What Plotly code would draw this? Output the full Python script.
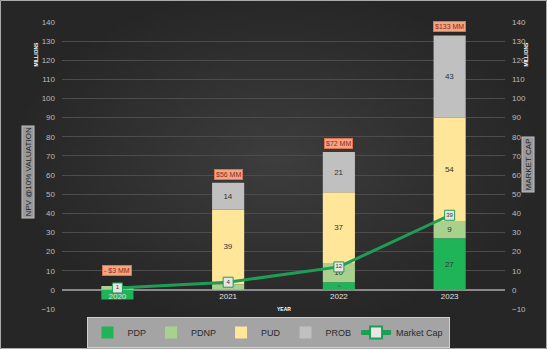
import base64, struct, zlib
import plotly.graph_objects as go

years = ["2020", "2021", "2022", "2023"]
pdp = [-5, 0, 4, 27]
pdnp = [2, 3, 10, 9]
pud = [0, 39, 37, 54]
prob = [0, 14, 21, 43]
market_cap = [1, 4, 12, 39]
total_labels = ["- $3 MM", "$56 MM", "$72 MM", "$133 MM"]

L, R, T, B = 62, 42, 22, 40
W, H = 547, 349
pw, ph = W - L - R, H - T - B

def px(x):
    return (x - L) / pw

def py(y):
    return (H - B - y) / ph

# radial background gradient as an in-memory PNG
def gradient_png(w=110, h=70):
    rows = b""
    for j in range(h):
        rows += b"\x00"
        for i in range(w):
            dx = (i - w * 0.5) / (w * 0.5)
            dy = (j - h * 0.45) / (h * 0.5)
            d = min(1.0, (dx * dx + dy * dy) ** 0.5)
            c = int(62 - 24 * d)
            rows += bytes([c, c, c])
    def chunk(t, data):
        return struct.pack(">I", len(data)) + t + data + struct.pack(">I", zlib.crc32(t + data) & 0xffffffff)
    png = b"\x89PNG\r\n\x1a\n" + chunk(b"IHDR", struct.pack(">IIBBBBB", w, h, 8, 2, 0, 0, 0))
    png += chunk(b"IDAT", zlib.compress(rows)) + chunk(b"IEND", b"")
    return "data:image/png;base64," + base64.b64encode(png).decode()

colors = {"PDP": "#1fb457", "PDNP": "#a9d18e", "PUD": "#ffe699", "PROB": "#c0c0c0"}

fig = go.Figure()
for name, vals in [("PDP", pdp), ("PDNP", pdnp), ("PUD", pud), ("PROB", prob)]:
    fig.add_trace(go.Bar(
        x=years, y=vals, name=name, marker_color=colors[name], marker_line_width=0,
        text=[str(v) if v >= 4 else "" for v in vals],
        textposition="inside", insidetextanchor="middle",
        textfont=dict(size=8, color="#333333", family="Liberation Sans"),
        width=0.29, hoverinfo="skip",
    ))

fig.add_trace(go.Scatter(
    x=years, y=market_cap, name="Market Cap", mode="lines+markers+text", yaxis="y2",
    line=dict(color="#1e9e55", width=3),
    marker=dict(symbol="square", size=10, color="#e6e6e6", line=dict(color="#1e9e55", width=1)),
    text=[str(v) for v in market_cap], textposition="middle center",
    textfont=dict(size=6, color="#333333"),
    hoverinfo="skip",
))

tops = [sum(max(v, 0) for v in col) for col in zip(pdp, pdnp, pud, prob)]
for i, (top, lab) in enumerate(zip(tops, total_labels)):
    fig.add_annotation(x=i, y=top, text=lab, showarrow=False, yanchor="bottom", yshift=3 if top > 5 else 10,
                       bgcolor="#f4a582", bordercolor="#e07050", borderwidth=1, borderpad=1,
                       font=dict(size=7, color="#8b2a1a", family="Liberation Sans"))

axis_font = dict(size=8, color="#bbbbbb", family="Liberation Sans")
fig.update_layout(
    width=W, height=H, margin=dict(l=L, r=R, t=T, b=B, autoexpand=False),
    paper_bgcolor="#2e2e2e", plot_bgcolor="rgba(0,0,0,0)",
    barmode="relative",
    font=dict(family="Liberation Sans"),
    xaxis=dict(type="category", range=[-0.5, 3.5], autorange=False, anchor="free", position=10 / 150,
               showgrid=False, showline=False, ticks="", tickfont=dict(size=8, color="#e0e0e0"), domain=[0, 1]),
    yaxis=dict(range=[-10, 140], dtick=10, gridcolor="#4c4c4c", gridwidth=1, zeroline=True,
               zerolinecolor="#8a8a8a", zerolinewidth=2, tickfont=axis_font, ticks="",
               ticklabelstandoff=6),
    yaxis2=dict(range=[-10, 140], dtick=10, overlaying="y", side="right", showgrid=False,
                zeroline=False, tickfont=axis_font, ticks="", ticklabelstandoff=6),
    legend=dict(orientation="h", x=px(268), xanchor="center", y=py(348), yanchor="bottom",
                bgcolor="#a4a4a4", bordercolor="#d0d0d0", borderwidth=1,
                font=dict(size=9, color="#2a2a2a"), itemwidth=30, tracegroupgap=0,
                itemsizing="constant"),
    showlegend=True,
    images=[dict(source=gradient_png(), xref="paper", yref="paper", x=px(0), y=py(0),
                 sizex=W / pw, sizey=H / ph, sizing="stretch", xanchor="left", yanchor="top",
                 layer="below")],
)

fig.add_annotation(xref="paper", yref="paper", x=px(22), y=py(172), text="NPV @10% VALUATION",
                   textangle=-90, showarrow=False, bgcolor="#9a9a9a", bordercolor="#c0c0c0",
                   borderwidth=1, font=dict(size=8, color="#222222"))
fig.add_annotation(xref="paper", yref="paper", x=px(534), y=py(165), text="MARKET CAP",
                   textangle=-90, showarrow=False, bgcolor="#9a9a9a", bordercolor="#c0c0c0",
                   borderwidth=1, font=dict(size=8, color="#222222"))
for xx in (30, 530):
    fig.add_annotation(xref="paper", yref="paper", x=px(xx), y=py(40), text="<b>MILLIONS</b>",
                       textangle=-90, showarrow=False, font=dict(size=5, color="#ffffff"))
fig.add_annotation(xref="paper", yref="paper", x=px(284), y=py(314), text="<b>YEAR</b>",
                   showarrow=False, font=dict(size=5, color="#ffffff"))

fig.add_shape(type="rect", xref="paper", yref="paper", x0=px(0.5), x1=px(546.5), y0=py(348.5), y1=py(0.5),
              line=dict(color="#aaaaaa", width=1), layer="below")

fig.write_html("out.html")
